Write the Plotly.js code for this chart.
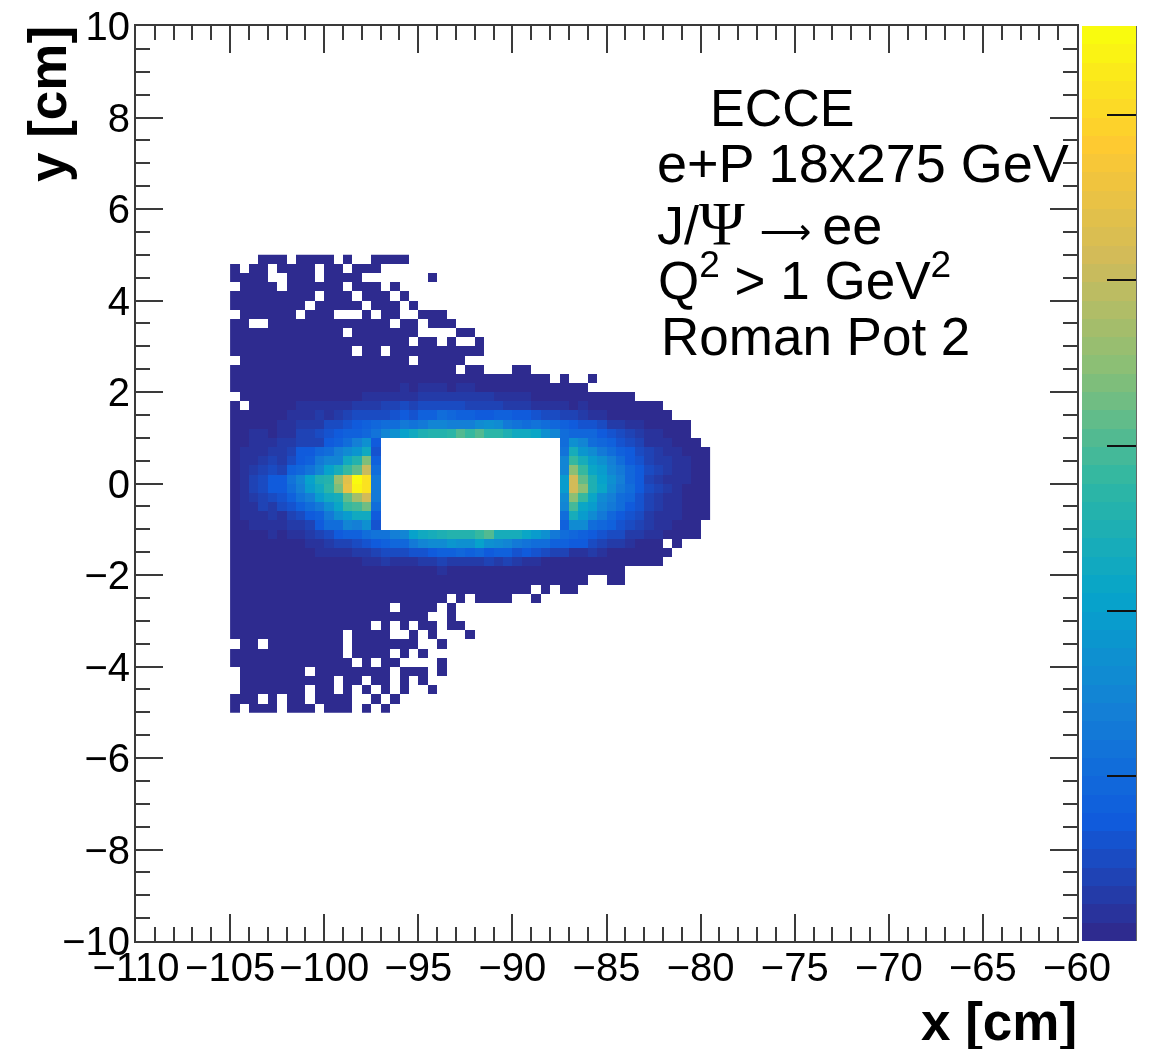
<!DOCTYPE html>
<html>
<head>
<meta charset="utf-8">
<script src="https://cdn.plot.ly/plotly-3.0.1.min.js"></script>
<style>html,body{margin:0;padding:0;background:#fff}#chart{width:1151px;height:1049px;filter:blur(0.6px)}</style>
</head>
<body>
<div id="chart"></div>
<script>
const _ = null;
// Histogram contents, top row (y 4.8..5.0) first, leftmost column (x -105..-104.5) first.
const counts = [
[_,_,_,1,1,1,_,1,1,1,1,_,1,_,_,1,1,1,1],
[1,_,1,1,_,1,1,1,1,_,1,1,_,1,1,1],
[1,1,1,1,_,_,1,1,1,_,1,1,1,1,_,_,_,_,_,_,_,1],
[_,1,1,1,1,_,1,1,1,1,1,1,_,1,1,1,_,1],
[1,1,1,1,1,1,1,1,1,_,1,1,1,_,1,1,1,_,1],
[1,1,1,1,1,1,1,1,_,1,1,1,1,1,_,1,1,1,_,1],
[_,1,1,1,1,1,1,_,1,1,1,_,_,_,1,_,1,1,_,_,1,1,1],
[1,1,_,_,1,1,1,1,1,1,1,1,1,1,1,1,1,_,1,1,_,1,1,1],
[1,1,1,1,1,1,1,1,1,1,1,1,_,1,1,1,1,1,1,1,_,_,_,_,1,1],
[1,1,1,1,1,1,1,1,1,1,1,1,1,1,1,1,1,1,1,_,1,1,_,1,_,_,1],
[1,1,1,1,1,1,1,1,1,1,1,1,1,_,1,1,_,1,1,1,1,1,1,1,1,1,1],
[_,1,1,1,1,1,1,1,1,1,1,1,1,1,1,1,1,1,1,_,1,1,1,1,1],
[1,1,1,1,1,1,1,1,1,1,1,1,1,1,1,1,1,1,1,1,1,1,1,1,_,1,1,_,_,_,1,1],
[1,1,2,1,2,1,2,2,2,2,2,3,3,3,3,4,3,5,5,6,5,5,6,6,5,6,5,4,3,3,3,2,2,2,_,1,_,_,1],
[2,2,2,2,2,2,2,2,2,3,3,3,3,3,4,6,8,10,14,8,12,14,14,10,12,12,10,8,8,7,6,5,4,4,3,3,2,2],
[_,3,3,3,3,3,3,4,4,4,5,5,6,8,12,15,18,16,12,22,25,28,25,30,25,28,28,25,22,20,16,12,10,8,6,6,5,5,4,3,3,2,2],
[2,_,3,4,4,4,8,14,16,15,12,15,20,25,25,30,40,35,45,40,50,45,50,55,45,40,40,40,40,30,25,25,16,16,12,12,10,12,8,6,5,4,3,3,2,2],
[3,4,4,5,8,10,14,18,16,25,20,25,40,45,50,45,55,60,70,65,85,85,100,95,85,85,75,75,85,85,70,75,60,50,45,40,35,30,22,15,10,8,6,5,4,3,3],
[4,5,8,8,8,18,20,25,25,30,45,55,60,75,85,90,100,110,125,120,130,150,150,140,140,135,165,170,165,130,120,110,115,100,90,85,75,65,60,45,30,25,20,12,8,6,5,5,4],
[5,8,12,12,5,15,20,40,35,45,65,75,80,85,90,115,150,170,200,230,250,265,265,275,305,285,310,270,270,250,230,225,215,170,150,110,95,95,90,70,60,50,35,25,20,12,10,8,6],
[3,10,12,15,18,24,26,40,35,40,75,85,110,140,170,70,_,_,_,_,_,_,_,_,_,_,_,_,_,_,_,_,_,_,_,100,170,150,110,90,80,65,50,35,22,18,12,10,8,6],
[4,12,16,18,25,30,40,75,75,90,105,135,165,185,230,65,_,_,_,_,_,_,_,_,_,_,_,_,_,_,_,_,_,_,_,115,240,185,165,130,100,85,70,55,35,25,20,14,10,8,6],
[4,12,18,28,35,28,55,70,85,125,150,150,225,265,335,80,_,_,_,_,_,_,_,_,_,_,_,_,_,_,_,_,_,_,_,145,285,235,190,175,135,105,75,60,40,30,25,16,12,8,6],
[5,16,25,35,48,42,80,95,115,145,200,240,285,320,400,100,_,_,_,_,_,_,_,_,_,_,_,_,_,_,_,_,_,_,_,155,345,285,215,190,150,130,90,70,45,35,28,20,12,8,6],
[4,20,40,50,70,75,115,145,205,250,265,355,440,550,510,125,_,_,_,_,_,_,_,_,_,_,_,_,_,_,_,_,_,_,_,195,410,320,250,200,170,140,90,75,42,32,22,22,12,8,6],
[4,20,38,50,68,75,105,140,190,230,270,340,450,535,520,130,_,_,_,_,_,_,_,_,_,_,_,_,_,_,_,_,_,_,_,195,415,345,245,215,165,130,105,72,45,35,25,22,10,8,5],
[4,22,30,42,52,62,85,115,140,190,225,240,320,375,420,125,_,_,_,_,_,_,_,_,_,_,_,_,_,_,_,_,_,_,_,165,350,285,220,165,135,110,95,65,42,30,22,12,10,8,5],
[3,16,22,34,30,48,65,80,105,130,175,215,280,295,330,105,_,_,_,_,_,_,_,_,_,_,_,_,_,_,_,_,_,_,_,150,290,220,190,155,125,100,75,60,38,28,18,15,10,8,4],
[3,14,18,22,30,22,36,55,70,85,125,170,190,225,230,75,_,_,_,_,_,_,_,_,_,_,_,_,_,_,_,_,_,_,_,110,235,190,160,130,90,75,65,48,32,22,15,12,9,6,4],
[3,8,12,12,14,18,28,32,42,75,100,110,145,140,170,65,_,_,_,_,_,_,_,_,_,_,_,_,_,_,_,_,_,_,_,85,165,160,100,95,80,60,50,35,25,18,12,9,6,4],
[3,3,4,10,12,10,18,20,30,40,50,75,80,85,100,115,120,135,150,210,225,240,250,265,255,255,280,310,240,240,240,215,190,170,125,105,95,80,70,60,45,45,30,25,15,12,10,8,6,5],
[2,2,3,3,4,8,10,10,16,20,30,35,40,55,60,70,80,95,95,130,145,160,165,180,170,175,200,170,165,150,130,120,110,105,85,85,75,70,50,40,25,30,12,10,8,5,_,3],
[2,2,2,2,3,4,4,8,10,12,18,20,22,28,30,35,45,50,55,60,65,75,80,85,90,85,90,75,85,85,60,75,60,50,40,40,20,15,25,15,10,8,5,4,3,3,3],
[1,1,1,1,2,2,3,3,6,3,6,8,8,8,12,12,25,15,18,12,25,30,35,30,30,30,25,40,30,35,25,20,15,10,8,8,6,5,4,3,2,2,2,2,1,1],
[1,1,1,1,1,2,2,2,2,2,3,3,3,3,3,5,5,6,6,8,8,6,14,10,8,8,8,8,8,6,5,4,3,3,3,2,2,2,1,1,1,1],
[1,1,1,1,1,1,1,1,2,1,1,2,2,2,2,2,2,2,3,3,3,4,3,4,3,3,2,3,3,2,3,2,3,2,2,2,1,1,_,_,1,1],
[1,1,1,1,1,1,1,1,1,1,1,1,1,1,2,2,1,1,5,2,2,2,2,2,2,2,2,2,2,2,1,1,_,1,_,1,1],
[1,1,1,1,1,1,1,1,1,1,1,1,1,1,1,1,1,1,1,1,1,1,1,_,1,_,1,1,1,1,_,_,1],
[1,1,1,1,1,1,1,1,1,1,1,1,1,1,1,1,1,_,1,1,1,1,_,1],
[1,1,1,1,1,1,1,1,1,1,1,1,1,1,1,1,1,1,1,1,1,_,_,1],
[1,1,1,1,1,1,1,1,1,1,1,1,1,1,1,_,1,_,1,_,1,1,_,1,1],
[1,1,1,1,1,1,1,1,1,1,1,1,_,1,1,1,1,_,_,1,_,1,_,_,_,1],
[_,1,1,_,1,1,1,1,1,1,1,1,_,1,1,1,1,1,1,1,_,_,1],
[1,1,1,1,1,1,1,1,1,1,1,1,_,1,1,1,1,_,1,_,1],
[1,1,1,1,1,1,1,1,1,1,1,1,1,_,1,_,1,1,_,_,_,_,1],
[_,1,1,1,1,1,1,1,_,1,1,1,1,1,1,1,1,_,1,1,1,_,1],
[_,1,1,1,1,1,1,1,1,1,1,_,1,1,_,1,1,_,1,_,1],
[_,1,1,1,1,1,1,1,_,1,1,_,1,_,1,_,1,_,1,_,_,1],
[1,1,1,_,1,_,1,1,_,1,1,1,1,_,_,1,_,1],
[1,_,1,1,1,_,1,1,1,_,1,1,1,_,1,_,1]
];
const xTitle = 'x [cm]';
const yTitle = 'y [cm]';
const colorbarTicks = [100, 200, 300, 400, 500];
const birdStops = [0, 0.125, 0.25, 0.375, 0.5, 0.625, 0.75, 0.875, 1];
const birdR = [0.18, 0.0592, 0.0780, 0.0232, 0.1802, 0.5301, 0.8186, 0.9956, 0.9764];
const birdG = [0.17, 0.3599, 0.5041, 0.6419, 0.7178, 0.7492, 0.7328, 0.7862, 0.9832];
const birdB = [0.56, 0.8684, 0.8385, 0.7914, 0.6425, 0.4662, 0.3499, 0.1968, 0.0539];

function bird(t) {
  let i = 0;
  while (i < birdStops.length - 2 && t > birdStops[i + 1]) i++;
  const f = (t - birdStops[i]) / (birdStops[i + 1] - birdStops[i]);
  const mix = a => Math.round(255 * (a[i] + f * (a[i + 1] - a[i])));
  return 'rgb(' + mix(birdR) + ',' + mix(birdG) + ',' + mix(birdB) + ')';
}
const nBands = 50, colorscale = [];
for (let k = 0; k < nBands; k++) {
  const c = bird(k / (nBands - 1));
  colorscale.push([k / nBands, c], [(k + 1) / nBands, c]);
}

const L = 136, R = 1077, T = 26, B = 941;
const px = v => (v - L) / (R - L);
const py = v => (B - v) / (B - T);
const axisLine = '#3a3a3a';
const fam = 'Liberation Sans, Arial, sans-serif';
const tickFont = {family: fam, size: 40, color: '#000'};
const titleFont = {family: fam, size: 53, color: '#000', weight: 700};

const note = (text, x, y, size) => ({text, xref: 'paper', yref: 'paper', x: px(x), y: py(y),
  xanchor: 'left', yanchor: 'middle', showarrow: false, font: {family: fam, size, color: '#000'}, align: 'left', borderpad: 0});

const trace = {
  type: 'heatmap', z: counts, x0: -104.75, dx: 0.5, y0: 4.9, dy: -0.2,
  zmin: 0, zmax: 554, colorscale, hoverongaps: false,
  colorbar: {
    thicknessmode: 'pixels', thickness: 54, lenmode: 'pixels', len: B - T,
    xref: 'paper', x: px(1082), xanchor: 'left', xpad: 0, ypad: 0,
    yref: 'paper', y: 0, yanchor: 'bottom',
    outlinewidth: 0, borderwidth: 0,
    tickmode: 'array', tickvals: colorbarTicks, showticklabels: false,
    ticks: 'inside', ticklen: 29, tickwidth: 1.5, tickcolor: '#111'
  }
};

const layout = {
  width: 1151, height: 1049, showlegend: false,
  paper_bgcolor: '#fff', plot_bgcolor: '#fff',
  margin: {l: L, r: 1151 - R, t: T, b: 1049 - B, pad: 0, autoexpand: false},
  xaxis: {
    range: [-110, -60], tick0: -110, dtick: 5, tickangle: 0, showgrid: false, zeroline: false,
    ticks: 'inside', ticklen: 27, tickwidth: 1.5, tickcolor: axisLine,
    showline: true, linecolor: axisLine, linewidth: 2, mirror: 'ticks',
    minor: {dtick: 1, ticks: 'inside', ticklen: 14, tickwidth: 1.5, tickcolor: axisLine, showgrid: false},
    tickfont: tickFont, automargin: false, ticklabelstandoff: -10
  },
  yaxis: {
    range: [-10, 10], tick0: -10, dtick: 2, showgrid: false, zeroline: false,
    ticks: 'inside', ticklen: 27, tickwidth: 1.5, tickcolor: axisLine,
    showline: true, linecolor: axisLine, linewidth: 2, mirror: 'ticks',
    minor: {dtick: 0.5, ticks: 'inside', ticklen: 14, tickwidth: 1.5, tickcolor: axisLine, showgrid: false},
    tickfont: tickFont, automargin: false, ticklabelstandoff: -4
  },
  shapes: [
    {type: 'line', xref: 'paper', yref: 'paper', x0: px(1136), x1: px(1136), y0: 0, y1: 1,
     line: {color: '#333', width: 1.5}}
  ],
  annotations: [
    note('ECCE', 709, 108, 52),
    note('e+P 18x275 GeV', 656, 163, 54),
    note('J/<span style="font-family:Liberation Serif;font-size:62px">Ψ</span> <span style="font-family:DejaVu Sans;font-size:36px">⟶</span>&#8201;ee', 656, 223, 54),
    note('Q<sup>2</sup> &gt; 1 GeV<sup>2</sup>', 657, 276, 53),
    note('Roman Pot 2', 660, 337, 53),
    {text: xTitle, xref: 'paper', yref: 'paper', x: px(1079), y: py(1021), xanchor: 'right', yanchor: 'middle',
     showarrow: false, font: titleFont},
    {text: yTitle, xref: 'paper', yref: 'paper', x: px(47), y: py(104), xanchor: 'center', yanchor: 'middle',
     showarrow: false, font: titleFont, textangle: -90}
  ]
};

Plotly.newPlot('chart', [trace], layout, {displayModeBar: false, responsive: false});
</script>
</body>
</html>
